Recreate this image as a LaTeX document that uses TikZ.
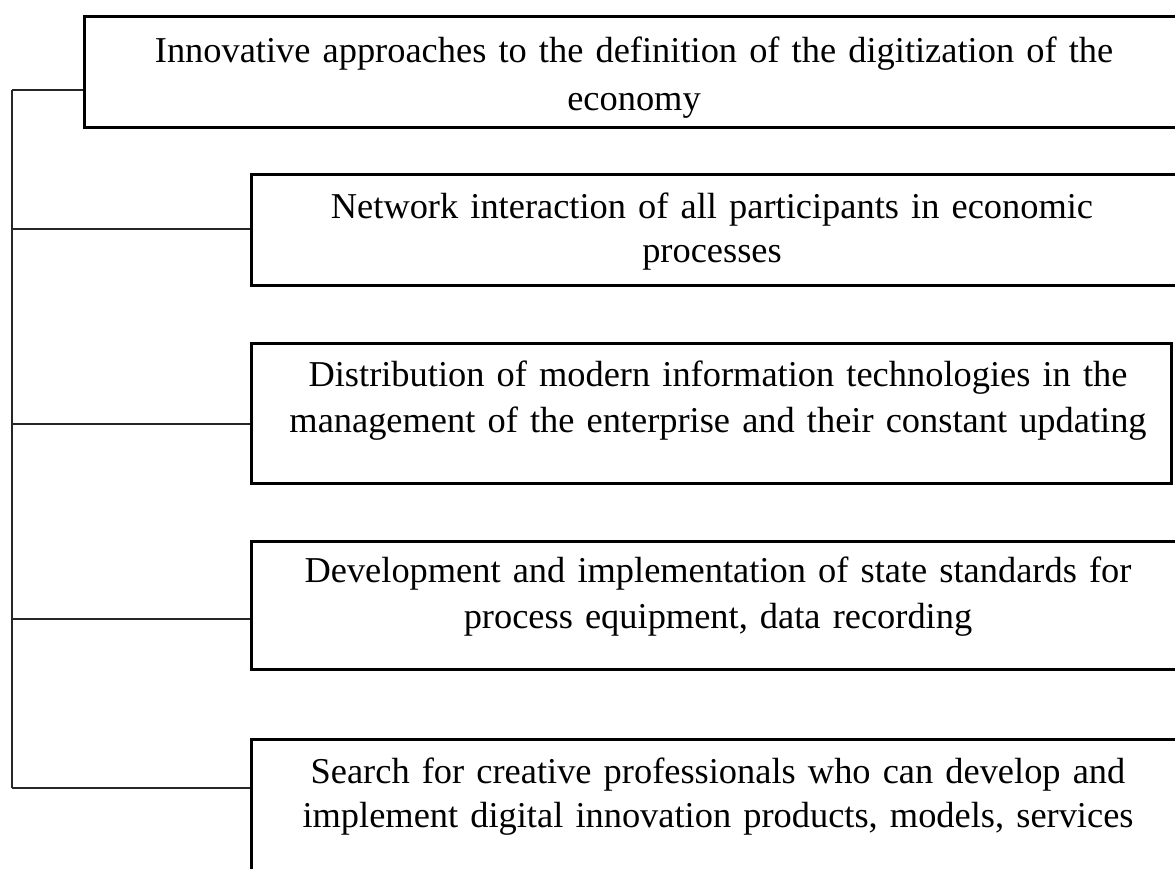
\documentclass[tikz,border=0pt]{standalone}
\usepackage{fontspec}
\setmainfont{Liberation Serif}
\usetikzlibrary{positioning}
\tikzset{
  itembox/.style={draw,line width=2.6pt,anchor=north west,inner sep=0pt},
  itemtext/.style={anchor=base,text width=1000pt,align=center,inner sep=0pt,
    font=\fontsize{36.4}{46}\selectfont},
  link/.style={line width=1.2pt,black!85}
}

\begin{document}
\begin{tikzpicture}[x=1pt,y=-1pt]
  \useasboundingbox (0,0) rectangle (1175,868);
  \clip (0,0) rectangle (1175,868);
  % boxes
  \node[itembox,minimum width=1110pt,minimum height=111pt](b1) at (83,15){};
  \node[itembox,minimum width=940pt,minimum height=111pt](b2) at (250,173){};
  \node[itembox,minimum width=920pt,minimum height=140pt](b3) at (250,342){};
  \node[itembox,minimum width=940pt,minimum height=128pt](b4) at (250,540){};
  \node[itembox,minimum width=940pt,minimum height=150pt](b5) at (250,738){};
  % texts
  \node[itemtext,font=\fontsize{36.4}{48}\selectfont](l1) at (634,62){Innovative approaches to the definition of the digitization of the\\economy};
  \node[itemtext,font=\fontsize{36.4}{44}\selectfont](l2) at (712,218){Network interaction of all participants in economic\\processes};
  \node[itemtext](l3) at (718,386){Distribution of modern information technologies in the\\management of the enterprise and their constant updating};
  \node[itemtext](l4) at (718,582){Development and implementation of state standards for\\process equipment, data recording};
  \node[itemtext,font=\fontsize{36.4}{44}\selectfont](l5) at (718,783){Search for creative professionals who can develop and\\implement digital innovation products, models, services};
  % trunk
  \coordinate (r1) at (12,90);
  \coordinate (r2) at (12,229);
  \coordinate (r3) at (12,424);
  \coordinate (r4) at (12,619);
  \coordinate (r5) at (12,788);
  \draw[link](r1)--(r5);
  \foreach \i in {1,...,5}
    \draw[link](r\i)--(r\i-|b\i.west);
\end{tikzpicture}
\end{document}
